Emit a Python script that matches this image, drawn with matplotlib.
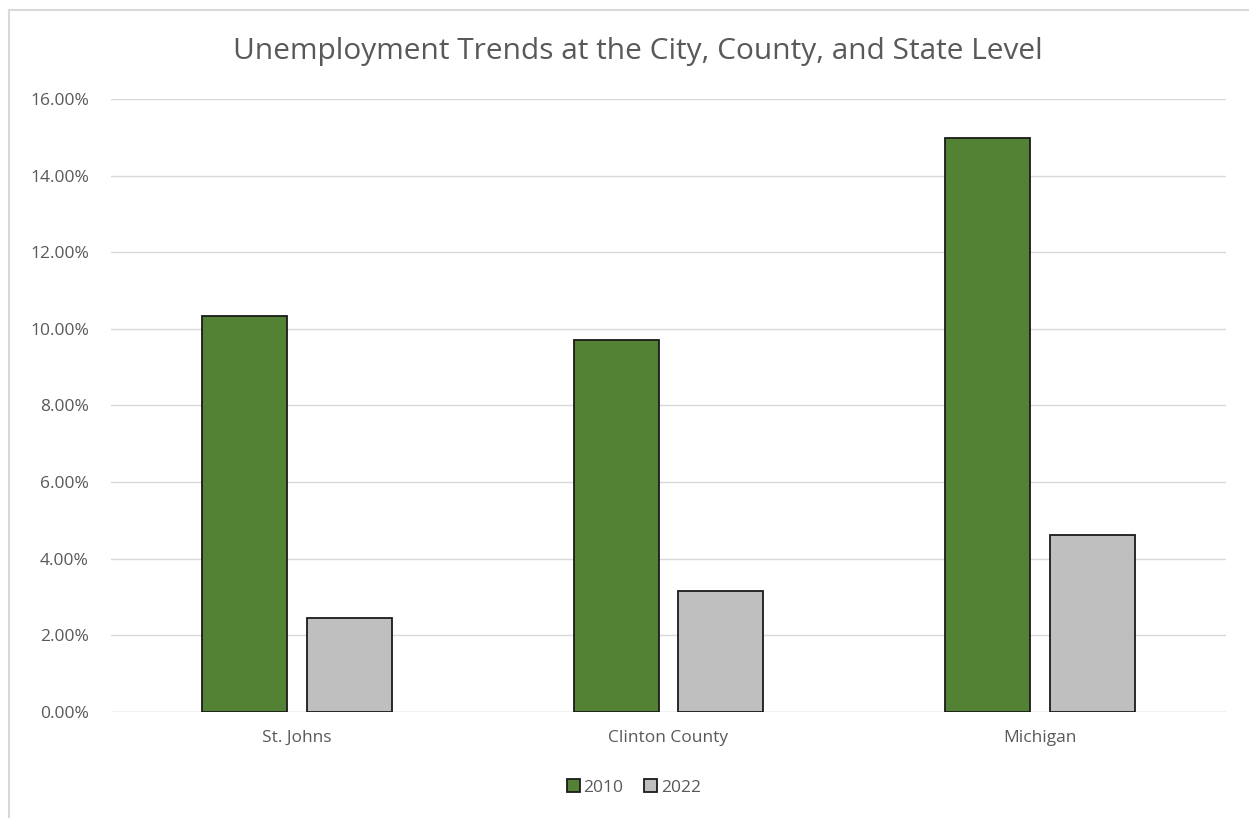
import matplotlib.pyplot as plt
import numpy as np
from matplotlib.lines import Line2D
from matplotlib.ticker import PercentFormatter

# data (percent)
categories = ['St. Johns', 'Clinton County', 'Michigan']
rate_2010 = [10.33, 9.72, 14.99]
rate_2022 = [2.46, 3.17, 4.63]
series_names = ['2010', '2022']

plt.rcParams['font.family'] = ['Open Sans', 'DejaVu Sans']
txt = '#595959'

fig = plt.figure(figsize=(12.49, 8.18), dpi=100)
ax = fig.add_axes([0.0889, 0.1296, 0.8927, 0.7494])

x = np.arange(len(categories))
w = 0.229
off = 0.141
ax.bar(x - off, rate_2010, w, color='#548235', edgecolor='#1a1a1a', linewidth=1.3, label=series_names[0], zorder=3)
ax.bar(x + off, rate_2022, w, color='#bfbfbf', edgecolor='#1a1a1a', linewidth=1.3, label=series_names[1], zorder=3)

ax.set_xlim(-0.5, 2.5)
ax.set_ylim(0, 16)
ax.set_yticks(np.arange(0, 17, 2))
ax.yaxis.set_major_formatter(PercentFormatter(decimals=2))
ax.set_xticks(x)
ax.set_xticklabels(categories)
ax.tick_params(length=0, labelsize=12.5, labelcolor=txt)
ax.tick_params(axis='y', pad=16)
ax.tick_params(axis='x', pad=13)
ax.grid(axis='y', color='#d9d9d9', linewidth=1, zorder=0)
for s in ax.spines.values():
    s.set_visible(False)
ax.axhline(0, color='#d9d9d9', linewidth=1, zorder=2)

fig.text(0.5105, 0.937, 'Unemployment Trends at the City, County, and State Level',
         ha='center', va='center', fontsize=21.5, color=txt)

leg = ax.legend(loc='center', bbox_to_anchor=(0.469, -0.123), ncol=2, frameon=False,
                fontsize=12.5, handlelength=0.75, handleheight=0.75, handletextpad=0.2,
                columnspacing=1.2)
for t in leg.get_texts():
    t.set_color(txt)

# chart border (left and top only visible in the reference)
fig.add_artist(Line2D([0.0072, 0.0072], [0.0, 0.988], transform=fig.transFigure, color='#d9d9d9', linewidth=1.5))
fig.add_artist(Line2D([0.0072, 1.0], [0.988, 0.988], transform=fig.transFigure, color='#d9d9d9', linewidth=1.5))

fig.savefig('out.png', dpi=100)
